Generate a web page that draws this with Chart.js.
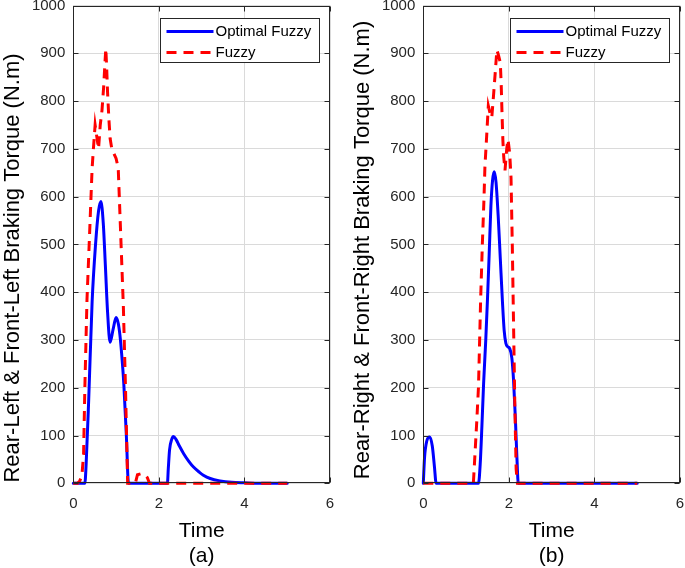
<!DOCTYPE html>
<html><head><meta charset="utf-8">
<script src="https://cdn.jsdelivr.net/npm/chart.js@4/dist/chart.umd.min.js"></script>
<style>
html,body{margin:0;padding:0;background:#fff;}
#wrap{position:relative;width:685px;height:568px;overflow:hidden;}
canvas{position:absolute;top:0;}
</style></head><body>
<div id="wrap">
<canvas id="ca" width="342" height="568" style="left:0"></canvas>
<canvas id="cb" width="343" height="568" style="left:342px"></canvas>
</div>
<script>
// ---------- data ----------
const seriesNames = ['Optimal Fuzzy', 'Fuzzy'];
const yTitles = ['Rear-Left & Front-Left Braking Torque (N.m)', 'Rear-Right & Front-Right Braking Torque (N.m)'];
const xTitle = 'Time';
const panelLabels = ['(a)', '(b)'];

// panel (a)
const timeA_opt   = [0, 0.27, 0.3, 0.36, 0.44, 0.52, 0.59, 0.645, 0.7, 0.75, 0.8, 0.86, 0.93, 1.0, 1.05, 1.09, 1.14, 1.18, 1.24, 1.29,
                     2.2, 2.22, 2.25, 2.3, 2.34, 2.4, 2.48, 2.58, 2.7, 2.81, 2.95, 3.04, 3.2, 3.43, 3.7, 4.0, 4.5, 5.0];
const torqueA_opt = [0, 0, 40, 175, 380, 500, 570, 590, 545, 455, 360, 295, 322, 347, 335, 310, 260, 209, 100, 0,
                     0, 30, 70, 92, 98, 92, 78, 62, 46, 34, 23, 17, 10, 5, 2, 1, 0, 0];
const timeA_fuzzy   = [0, 0.1, 0.15, 0.2, 0.24, 0.27, 0.32, 0.38, 0.44, 0.47, 0.51, 0.55, 0.59, 0.63, 0.67, 0.71, 0.74, 0.76, 0.78, 0.8,
                       0.83, 0.86, 0.9, 0.95, 1.0, 1.05, 1.1, 1.17, 1.22, 1.27, 1.45, 1.5, 1.58, 1.66, 1.73, 1.78, 5.0];
const torqueA_fuzzy = [0, 0, 5, 15, 60, 200, 385, 520, 660, 700, 750, 725, 700, 750, 780, 830, 880, 910, 870, 820,
                       765, 722, 700, 690, 680, 660, 540, 370, 200, 0, 0, 18, 20, 18, 12, 0, 0];

// panel (b)
const timeB_opt   = [0, 0.03, 0.08, 0.15, 0.21, 0.26, 0.3, 1.29, 1.33, 1.37, 1.41, 1.46, 1.5, 1.54, 1.58, 1.62, 1.66, 1.7, 1.75,
                     1.8, 1.85, 1.89, 1.93, 1.97, 2.02, 2.07, 2.11, 2.15, 2.19, 2.22, 5.0];
const torqueB_opt = [0, 55, 88, 97, 78, 35, 0, 0, 40, 120, 210, 300, 385, 480, 580, 635, 652, 630, 560,
                     470, 380, 320, 293, 286, 282, 262, 215, 140, 50, 0, 0];
const timeB_fuzzy   = [0, 1.17, 1.2, 1.25, 1.29, 1.34, 1.38, 1.42, 1.44, 1.48, 1.52, 1.56, 1.6, 1.64, 1.68, 1.72, 1.76, 1.8, 1.82,
                       1.84, 1.86, 1.88, 1.91, 1.95, 1.98, 2.02, 2.05, 2.08, 2.11, 2.14, 2.17, 2.2, 5.0];
const torqueB_fuzzy = [0, 0, 48, 130, 202, 384, 500, 600, 662, 725, 790, 775, 765, 810, 858, 907, 895, 880, 837,
                       774, 718, 683, 655, 700, 720, 690, 640, 500, 330, 160, 30, 0, 0];

// ---------- style ----------
const FONT = "'Liberation Sans', Arial, Helvetica, sans-serif";
const AX = '#262626';
const GRID = '#dadada';
const BLUE = '#0000ff';
const RED = '#ff0000';

function pts(t, v) { return t.map((x, i) => ({x: x, y: v[i]})); }

const framePlugin = {
  id: 'frame',
  afterDraw(chart, args, opts) {
    const {ctx, chartArea: a, scales: {x, y}} = chart;
    ctx.save();
    ctx.strokeStyle = AX; ctx.lineWidth = 1;
    const L = Math.round(a.left) + 0.5, R = Math.round(a.right) - 0.5;
    const T = Math.round(a.top) + 0.5, B = Math.round(a.bottom) - 0.5;
    ctx.strokeRect(L, T, R - L, B - T);
    const tl = 5;
    ctx.beginPath();
    x.ticks.forEach(tk => {
      const px = Math.round(x.getPixelForValue(tk.value)) + 0.5;
      ctx.moveTo(px, B); ctx.lineTo(px, B - tl);
      ctx.moveTo(px, T); ctx.lineTo(px, T + tl);
    });
    y.ticks.forEach(tk => {
      const py = Math.round(y.getPixelForValue(tk.value)) + 0.5;
      ctx.moveTo(L, py); ctx.lineTo(L + tl, py);
      ctx.moveTo(R, py); ctx.lineTo(R - tl, py);
    });
    ctx.stroke();
    // y axis title
    ctx.save();
    ctx.translate(opts.titleX, opts.titleY);
    ctx.rotate(-Math.PI / 2);
    ctx.fillStyle = '#000';
    ctx.font = '22px ' + FONT;
    ctx.textAlign = 'center'; ctx.textBaseline = 'middle';
    ctx.fillText(opts.title, 0, 0);
    ctx.restore();
    // legend
    const w = 159, h = 44;
    const lx = Math.round(a.right - 11 - w) + 0.5, ly = Math.round(a.top + 12) + 0.5;
    ctx.fillStyle = '#fff';
    ctx.fillRect(lx, ly, w, h);
    ctx.strokeStyle = AX; ctx.lineWidth = 1;
    ctx.strokeRect(lx, ly, w, h);
    const rows = [chart.data.datasets[0], chart.data.datasets[1]];
    rows.forEach((ds, i) => {
      const yy = ly + 13 + i * 21;
      ctx.beginPath();
      ctx.strokeStyle = ds.borderColor; ctx.lineWidth = ds.borderWidth;
      ctx.setLineDash(ds.borderDash || []);
      ctx.moveTo(lx + 6, yy); ctx.lineTo(lx + 53, yy);
      ctx.stroke();
      ctx.setLineDash([]);
      ctx.fillStyle = '#000';
      ctx.font = '15px ' + FONT;
      ctx.textBaseline = 'middle'; ctx.textAlign = 'left';
      ctx.fillText(ds.label, lx + 55, yy + 0.5);
    });
    ctx.restore();
  }
};

function makeChart(id, optT, optV, fuzT, fuzV, yTitle, panel, yAxisW, padRight, titleX, titleY) {
  return new Chart(document.getElementById(id), {
    type: 'line',
    data: {
      datasets: [
        { label: seriesNames[0], data: pts(optT, optV), borderColor: BLUE, backgroundColor: BLUE,
          borderWidth: 3, pointRadius: 0, tension: 0.4, cubicInterpolationMode: 'monotone', order: 1,
          borderJoinStyle: 'round', borderCapStyle: 'round', clip: 6 },
        { label: seriesNames[1], data: pts(fuzT, fuzV), borderColor: RED, backgroundColor: RED,
          borderWidth: 3, borderDash: [10, 7], pointRadius: 0, tension: 0, order: 0,
          borderJoinStyle: 'miter', borderCapStyle: 'butt', clip: 6 }
      ]
    },
    options: {
      responsive: false, animation: false, devicePixelRatio: 1,
      layout: { padding: { left: 0, right: padRight, top: 5.5, bottom: 0 } },
      plugins: { legend: { display: false }, tooltip: { enabled: false },
                 frame: { title: yTitle, titleX: titleX, titleY: titleY } },
      scales: {
        x: {
          type: 'linear', min: 0, max: 6,
          ticks: { stepSize: 2, color: AX, font: { family: FONT, size: 15 }, padding: 12, maxRotation: 0,
                   callback: v => String(v) },
          grid: { color: GRID, lineWidth: 1, drawTicks: false },
          border: { display: false },
          title: { display: true, text: [xTitle, panel], color: '#000',
                   font: { family: FONT, size: 21, lineHeight: 1.17 }, padding: { top: 0, bottom: 0 } },
          afterFit(s) { s.height = 568 - 483.3; s.paddingLeft = 0; s.paddingRight = 0; }
        },
        y: {
          min: 0, max: 1000,
          ticks: { stepSize: 100, color: AX, font: { family: FONT, size: 15 }, padding: 8,
                   callback: v => String(v) },
          grid: { color: GRID, lineWidth: 1, drawTicks: false },
          border: { display: false },
          title: { display: false, text: yTitle },
          afterFit(s) { s.width = yAxisW; s.paddingTop = 0; s.paddingBottom = 0; }
        }
      }
    },
    plugins: [framePlugin]
  });
}

makeChart('ca', timeA_opt, torqueA_opt, timeA_fuzzy, torqueA_fuzzy, yTitles[0], panelLabels[0], 73.3, 12, 12.5, 268);
makeChart('cb', timeB_opt, torqueB_opt, timeB_fuzzy, torqueB_fuzzy, yTitles[1], panelLabels[1], 81.3, 5, 21, 250);
</script>
</body></html>
